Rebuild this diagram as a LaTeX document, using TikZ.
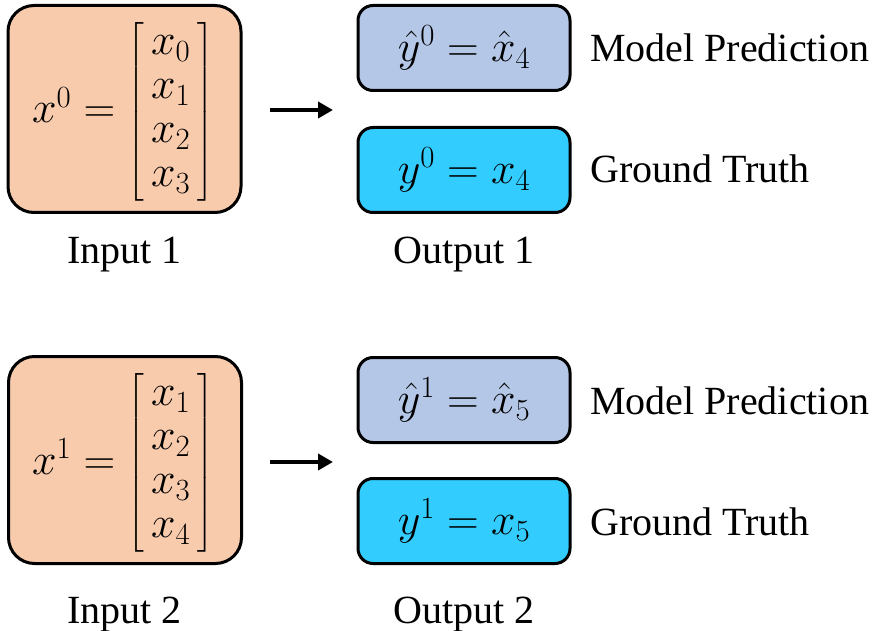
\RequirePackage{fix-cm}
\documentclass[tikz,border=0pt]{standalone}
\usepackage{amsmath}
\usepackage{fontspec}
\setmainfont{Liberation Serif}
\usetikzlibrary{arrows.meta}
\newcommand{\vecbox}[4]{\left[\hspace{7pt}\begin{matrix} #1\\ #2\\ #3\\ #4 \end{matrix}\hspace{7pt}\right]}
\definecolor{inorange}{HTML}{F8CBAD}
\definecolor{predblue}{HTML}{B4C7E7}
\definecolor{gtcyan}{HTML}{33CCFF}
\tikzset{
  inbox/.style={draw=black, line width=3pt, fill=inorange, rounded corners=26pt,
    minimum width=233pt, minimum height=207pt, inner sep=0pt},
  mathtxt/.style={inner sep=0pt, anchor=base,
    font=\fontsize{44}{44}\selectfont},
  predbox/.style={draw=black, line width=3pt, fill=predblue, rounded corners=15pt,
    minimum width=212pt, minimum height=85pt, inner sep=0pt,
    font=\fontsize{44}{44}\selectfont},
  gtbox/.style={predbox, fill=gtcyan},
  lbl/.style={font=\fontsize{40}{40}\selectfont, inner sep=0pt},
  flow/.style={line width=4pt, -{Triangle[length=15pt,width=16pt]}}
}
\begin{document}
\begin{tikzpicture}[x=1pt,y=-1pt]
\useasboundingbox (0,0) rectangle (873,631);
% row 1
\node[inbox] (in1) at (124.5,109) {};
\node[mathtxt] (in1eq) at (123,123) {$x^0 = \vecbox{x_0}{x_1}{x_2}{x_3}$};
\node[predbox] (pr1) at (464,48) {$\hat{y}^0 = \hat{x}_4$};
\node[gtbox] (gt1) at (464,170) {$y^0 = x_4$};
\coordinate (a1s) at (270,110);
\coordinate (a1e) at (333,110);
\draw[flow] (a1s) -- (a1e);
\node[lbl, anchor=base] (lin1) at (124.5,263) {Input 1};
\node[lbl, anchor=base] (lout1) at (464,263) {Output 1};
\node[lbl, anchor=base west] (lmp1) at (590,62) {Model Prediction};
\node[lbl, anchor=base west] (lgt1) at (590,183) {Ground Truth};
% row 2
\node[inbox] (in2) at (125,460) {};
\node[mathtxt] (in2eq) at (123,474) {$x^1 = \vecbox{x_1}{x_2}{x_3}{x_4}$};
\node[predbox] (pr2) at (464,400) {$\hat{y}^1 = \hat{x}_5$};
\node[gtbox] (gt2) at (464,521) {$y^1 = x_5$};
\coordinate (a2s) at (270,462);
\coordinate (a2e) at (333,462);
\draw[flow] (a2s) -- (a2e);
\node[lbl, anchor=base] (lin2) at (124.5,623) {Input 2};
\node[lbl, anchor=base] (lout2) at (464,623) {Output 2};
\node[lbl, anchor=base west] (lmp2) at (590,414) {Model Prediction};
\node[lbl, anchor=base west] (lgt2) at (590,535) {Ground Truth};
\end{tikzpicture}
\end{document}
